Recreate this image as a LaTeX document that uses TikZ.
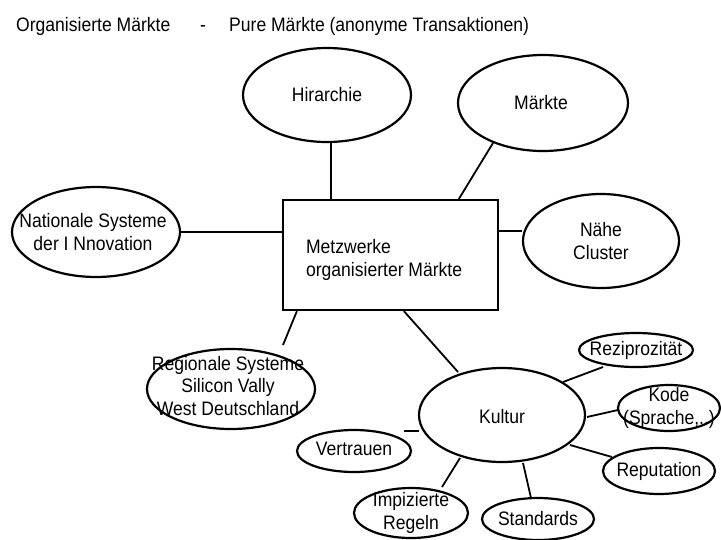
\documentclass[tikz,border=0pt]{standalone}
\usepackage{fontspec}
\setmainfont{Liberation Sans}
\newfontfamily\cfont[FakeStretch=0.9]{Liberation Sans}
\usetikzlibrary{shapes.geometric,calc}
\begin{document}
\begin{tikzpicture}[x=1pt,y=-1pt,
  ell/.style={draw, ellipse, line width=2.2pt, inner sep=0pt, fill=white},
  lbl/.style={font=\cfont\fontsize{19.5}{22.5}\selectfont, align=center, inner sep=0pt},
  link/.style={line width=1.8pt},
  ]
\useasboundingbox (0,0) rectangle (721,539);
% title
\node[lbl, anchor=base west] (t1) at (16,31) {Organisierte Märkte};
\node[lbl, anchor=base] (t2) at (203,31) {-};
\node[lbl, anchor=base west] (t3) at (229,31) {Pure Märkte (anonyme Transaktionen)};
% central box
\node[draw, line width=2.2pt, minimum width=215pt, minimum height=110pt, inner sep=0pt] (box) at (390.5,255) {};
\node[lbl, align=left, anchor=west] (boxtxt) at ($(box.west)+(24,5)$) {Metzwerke\\organisierter Märkte};
% ellipses
\node[ell, minimum width=168pt, minimum height=94pt, label={[lbl]center:Hirarchie}] (hir) at (327,95) {};
\node[ell, minimum width=170pt, minimum height=96pt, label={[lbl,xshift=-2pt]center:Märkte}] (mar) at (543,103) {};
\node[ell, minimum width=156pt, minimum height=94pt, label={[lbl]center:Nähe\\Cluster}] (nae) at (601,241) {};
\node[ell, minimum width=168pt, minimum height=90pt, label={[lbl,xshift=-3pt]center:Nationale Systeme\\der I Nnovation}] (nat) at (96,232) {};
\node[ell, minimum width=168pt, minimum height=80pt, label={[lbl,xshift=-3pt,yshift=3pt]center:Regionale Systeme\\Silicon Vally\\West Deutschland}] (reg) at (231,389) {};
\node[ell, minimum width=166pt, minimum height=94pt, label={[lbl,yshift=-2pt]center:Kultur}] (kul) at (502,415) {};
\node[ell, minimum width=114pt, minimum height=42pt, label={[lbl,yshift=2pt]center:Vertrauen}] (ver) at (354,451) {};
\node[ell, minimum width=114pt, minimum height=34pt, label={[lbl]center:Reziprozität}] (rez) at (636,350) {};
\node[ell, minimum width=102pt, minimum height=46pt, label={[lbl]center:Kode\\(Sprache,..)}] (kod) at (669,408) {};
\node[ell, minimum width=112pt, minimum height=46pt, label={[lbl]center:Reputation}] (rep) at (659,471) {};
\node[ell, minimum width=112pt, minimum height=42pt, label={[lbl]center:Standards}] (std) at (538,519) {};
\node[ell, minimum width=114pt, minimum height=50pt, label={[lbl]center:Impizierte\\Regeln}] (imp) at (411,513) {};
% connectors
\draw[link] ($(hir.south)+(4,0)$) coordinate (h1) -- (h1 |- box.north);
\draw[link] ($(mar.center)+(-50,40)$) -- ($(box.north west)+(177,0)$);
\draw[link] ($(box.north east)+(0,32)$) coordinate (b3) -- (b3 -| nae.west);
\draw[link] (nat.east) -- (nat.east -| box.west);
\draw[link] ($(box.south west)+(15,0)$) -- ($(reg.center)+(52,-44)$);
\draw[link] ($(box.south west)+(122,0)$) -- ($(kul.center)+(-44,-43)$);
\draw[link] ($(kul.center)+(-83,16)$) -- ($(ver.center)+(50,-20)$);
\draw[link] ($(kul.center)+(61,-33)$) -- ($(rez.center)+(-33,17)$);
\draw[link] ($(kul.center)+(85,2)$) -- ($(kod.center)+(-51,2)$);
\draw[link] ($(kul.center)+(68,30)$) -- ($(rep.center)+(-47,-14)$);
\draw[link] ($(kul.center)+(21,48)$) -- ($(std.center)+(-7,-21)$);
\draw[link] ($(kul.center)+(-42,43)$) -- ($(imp.center)+(31,-26)$);
\end{tikzpicture}
\end{document}
